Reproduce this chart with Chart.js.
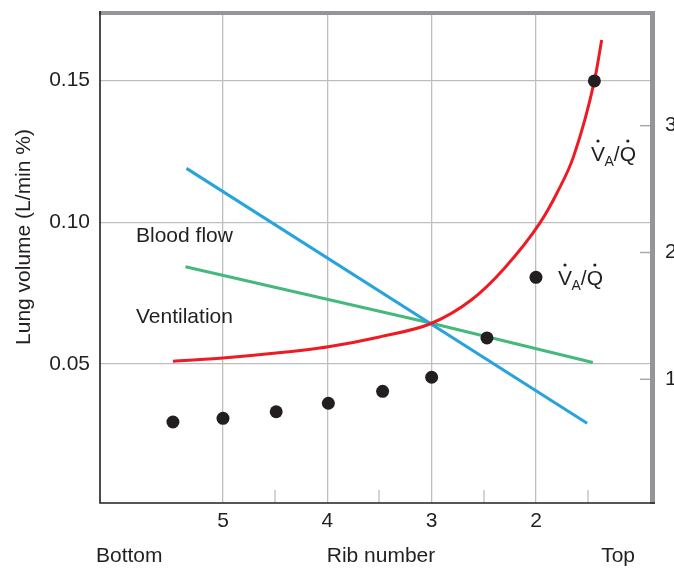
<!DOCTYPE html>
<html><head><meta charset="utf-8">
<script src="https://cdn.jsdelivr.net/npm/chart.js@4/dist/chart.umd.min.js"></script>
<style>html,body{margin:0;padding:0;background:#fff;overflow:hidden}#wrap{width:674px;height:568px}</style>
</head><body><div id="wrap"><canvas id="c" width="674" height="568"></canvas></div>
<script>
// ---- data ----
const ribTicks = [5, 4, 3, 2];
const ribMinorTicks = [4.5, 3.5, 2.5, 1.5];
const volumeTicks = [0.05, 0.10, 0.15];
const ratioTicks = [1, 2, 3];

const bloodFlowRib = [5.35, 1.51];
const bloodFlowVol = [0.1190, 0.0291];

const ventilationRib = [5.36, 3.0, 1.455];
const ventilationVol = [0.0843, 0.0644, 0.0505];

const vqCurveRib   = [5.48, 5.0, 4.49, 3.99, 3.5, 3.0, 2.62, 2.3, 1.96, 1.80, 1.64, 1.44, 1.37];
const vqCurveRatio = [1.142, 1.168, 1.207, 1.257, 1.334, 1.442, 1.625, 1.878, 2.235, 2.467, 2.756, 3.353, 3.676];

const vqDotsRib   = [5.48, 5.0, 4.49, 3.99, 3.47, 3.0, 2.47, 2.0, 1.44];
const vqDotsRatio = [0.663, 0.692, 0.744, 0.811, 0.905, 1.016, 1.326, 1.804, 3.353];

const textLabels = { blood: 'Blood flow', vent: 'Ventilation', yTitle: 'Lung volume (L/min %)',
  xTitle: 'Rib number', bottom: 'Bottom', top: 'Top' };

// ---- chart ----
const FONT = '"Liberation Sans", Arial, Helvetica, sans-serif';
const INK = '#231f20';
const GRID = '#bcbec0';
const pts = (xs, ys) => xs.map((x, i) => ({ x, y: ys[i] }));
const noPad = s => { s.paddingTop = 0; s.paddingBottom = 0; s.paddingLeft = 0; s.paddingRight = 0; };

function vaq(ctx, x0, base) {
  ctx.font = '21px ' + FONT;
  ctx.textAlign = 'left'; ctx.textBaseline = 'alphabetic';
  const wV = ctx.measureText('V').width;
  ctx.fillText('V', x0, base);
  ctx.beginPath(); ctx.arc(x0 + wV / 2, base - 20, 1.6, 0, Math.PI * 2); ctx.fill();
  let x = x0 + wV - 0.5;
  ctx.font = '14px ' + FONT;
  ctx.fillText('A', x, base + 5);
  x += ctx.measureText('A').width;
  ctx.font = '21px ' + FONT;
  ctx.fillText('/', x, base);
  x += ctx.measureText('/').width;
  const wQ = ctx.measureText('Q').width;
  ctx.fillText('Q', x, base);
  ctx.beginPath(); ctx.arc(x + wQ / 2, base - 20, 1.6, 0, Math.PI * 2); ctx.fill();
}

const deco = {
  id: 'deco',
  afterDraw(chart) {
    const { ctx, chartArea: a, scales } = chart;
    const x = scales.x, yR = scales.yR;
    ctx.save();
    ctx.strokeStyle = GRID; ctx.lineWidth = 1.3;
    ribMinorTicks.forEach(v => { const px = Math.round(x.getPixelForValue(v)); ctx.beginPath(); ctx.moveTo(px, a.bottom); ctx.lineTo(px, a.bottom - 13); ctx.stroke(); });
    ctx.strokeStyle = '#a7a9ac'; ctx.lineWidth = 1.5;
    ratioTicks.forEach(v => { const py = yR.getPixelForValue(v); ctx.beginPath(); ctx.moveTo(a.right - 10, py); ctx.lineTo(a.right, py); ctx.stroke(); });
    ctx.fillStyle = '#939598';
    ctx.fillRect(a.left - 1, a.top - 4, a.right + 5 - (a.left - 1), 4);
    ctx.fillRect(a.right, a.top - 4, 5, a.bottom - a.top + 5);
    ctx.strokeStyle = INK; ctx.lineWidth = 1.6;
    ctx.beginPath(); ctx.moveTo(a.left, a.top - 4); ctx.lineTo(a.left, a.bottom); ctx.lineTo(a.right + 5, a.bottom); ctx.stroke();

    ctx.fillStyle = INK;
    ctx.font = '21px ' + FONT; ctx.textBaseline = 'alphabetic'; ctx.textAlign = 'left';
    ctx.fillText(textLabels.blood, 136, 241.5);
    ctx.fillText(textLabels.vent, 136, 323.3);
    ctx.fillText(textLabels.bottom, 96, 562);
    ctx.textAlign = 'right'; ctx.fillText(textLabels.top, 635, 562);
    ctx.textAlign = 'center'; ctx.fillText(textLabels.xTitle, 381, 562);
    ctx.save(); ctx.translate(30, 237); ctx.rotate(-Math.PI / 2);
    ctx.fillText(textLabels.yTitle, 0, 0); ctx.restore();

    vaq(ctx, 591, 161);
    vaq(ctx, 558, 285);
    ctx.restore();
  }
};

new Chart(document.getElementById('c'), {
  type: 'line',
  data: {
    datasets: [
      { data: pts(vqDotsRib, vqDotsRatio), yAxisID: 'yR', showLine: false, pointRadius: 6.5,
        pointBackgroundColor: INK, pointBorderWidth: 0, order: 0 },
      { data: pts(vqCurveRib.slice().reverse(), vqCurveRatio.slice().reverse()), yAxisID: 'yR',
        borderColor: '#ed1c24', borderWidth: 3, pointRadius: 0, cubicInterpolationMode: 'monotone', fill: false, order: 1 },
      { data: pts(bloodFlowRib, bloodFlowVol), yAxisID: 'y', borderColor: '#27a3dd', borderWidth: 3, pointRadius: 0, order: 2 },
      { data: pts(ventilationRib, ventilationVol), yAxisID: 'y', borderColor: '#45b97c', borderWidth: 3, pointRadius: 0, order: 3 }
    ]
  },
  options: {
    responsive: false, animation: false, devicePixelRatio: 1,
    layout: { padding: { top: 15, left: 0, right: 0, bottom: 0 } },
    plugins: { legend: { display: false }, tooltip: { enabled: false } },
    scales: {
      x: {
        type: 'linear', reverse: true, min: 0.907, max: 6.179,
        afterBuildTicks: s => { s.ticks = ribTicks.map(v => ({ value: v })); },
        afterFit: s => { s.height = 65; noPad(s); },
        ticks: { font: { size: 21, family: FONT }, color: INK, padding: 6, callback: v => String(v) },
        grid: { color: GRID, lineWidth: 1.3, drawTicks: false },
        border: { display: false }
      },
      y: {
        position: 'left', min: 0.00097, max: 0.1731,
        afterBuildTicks: s => { s.ticks = volumeTicks.map(v => ({ value: v })); },
        afterFit: s => { s.width = 100; noPad(s); },
        ticks: { font: { size: 21, family: FONT }, color: INK, padding: 10, callback: v => v.toFixed(2) },
        grid: { color: GRID, lineWidth: 1.3, drawTicks: false },
        border: { display: false }
      },
      yR: {
        position: 'right', min: 0.0244, max: 3.873,
        afterBuildTicks: s => { s.ticks = ratioTicks.map(v => ({ value: v })); },
        afterFit: s => { s.width = 24; noPad(s); },
        ticks: { font: { size: 21, family: FONT }, color: INK, padding: 15, callback: v => String(v) },
        grid: { display: false, drawTicks: false },
        border: { display: false }
      }
    }
  },
  plugins: [deco]
});
</script></body></html>
